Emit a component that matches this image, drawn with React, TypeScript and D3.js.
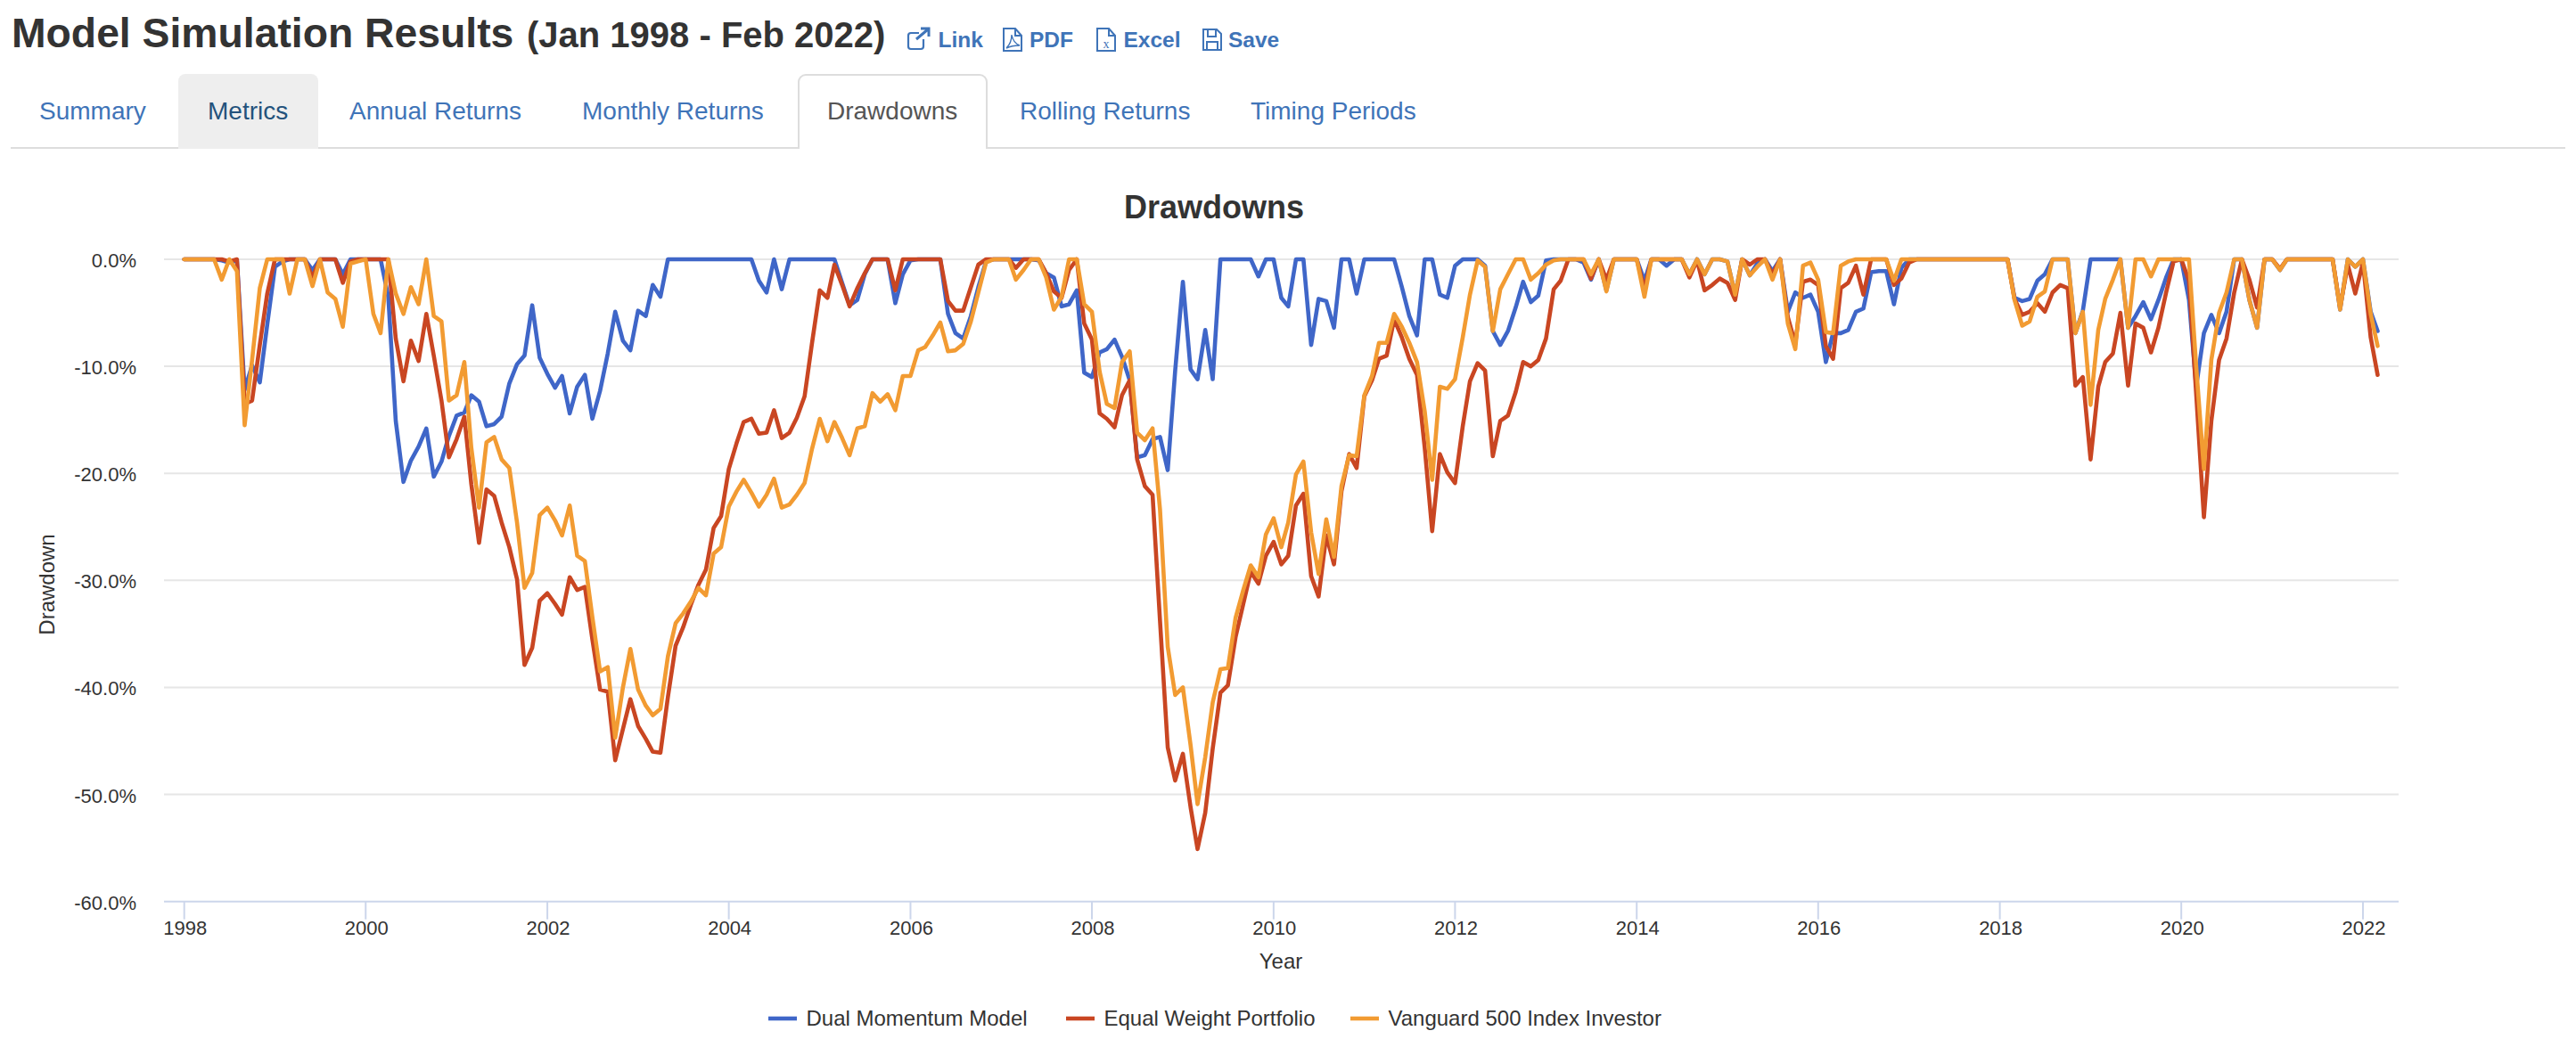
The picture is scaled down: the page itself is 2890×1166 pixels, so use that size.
/**
 * Drawdowns — monthly drawdown lines for three portfolios, inside the results page header and tabs.
 */

import * as d3 from "d3";

const FONT = "'Liberation Sans', Arial, sans-serif";

// Month-end readings, Dec 1997 through Feb 2022, twelve to a row
const DUAL_MOMENTUM = [
  0, 0, 0, 0, 0, -0.1, -0.3, -0.1, -12.2, -9.9, -11.5, -6.1,
  -0.7, -0.2, 0, 0, 0, -1.0, 0, 0, 0, -1.4, 0, 0,
  0, 0, 0, -3.5, -15.1, -20.8, -18.8, -17.5, -15.8, -20.3, -18.9, -16.5,
  -14.6, -14.3, -12.7, -13.3, -15.6, -15.4, -14.7, -11.6, -9.8, -9.0, -4.3, -9.2,
  -10.7, -12.0, -10.9, -14.4, -11.9, -10.8, -14.9, -12.3, -8.8, -4.9, -7.6, -8.5,
  -4.8, -5.3, -2.4, -3.5, 0, 0, 0, 0, 0, 0, 0, 0,
  0, 0, 0, 0, -2.0, -3.1, 0, -2.8, 0, 0, 0, 0,
  0, 0, 0, -2.2, -4.3, -3.8, -1.4, 0, 0, 0, -4.1, -1.4,
  -0.1, 0, 0, 0, 0, -5.1, -6.9, -7.4, -5.3, -2.6, -0.2, 0,
  0, 0, 0, 0, 0, -0.1, -1.3, -1.7, -4.4, -4.2, -2.9, -10.6,
  -11.0, -8.7, -8.4, -7.5, -9.1, -11.3, -18.5, -18.3, -16.8, -16.6, -19.7, -10.4,
  -2.1, -10.3, -11.2, -6.6, -11.2, 0, 0, 0, 0, 0, -1.6, 0,
  0, -3.6, -4.4, 0, 0, -8.0, -3.7, -3.9, -6.4, 0, 0, -3.2,
  0, 0, 0, 0, 0, -2.6, -5.3, -7.1, 0, 0, -3.3, -3.6,
  -0.6, 0, 0, 0, -0.6, -6.7, -8.0, -6.7, -4.5, -2.1, -4.0, -3.4,
  -0.1, 0, 0, 0, 0, -0.3, -1.9, 0, -2.9, 0, 0, 0,
  0, -2.0, 0, 0, -0.6, 0, 0, -1.4, 0, -1.4, 0, 0,
  -0.2, -3.3, 0, -1.5, -0.4, 0, -1.1, 0, -4.9, -3.1, -3.6, -3.3,
  -4.9, -9.6, -6.9, -6.9, -6.6, -4.9, -4.6, -1.2, -1.1, -1.1, -4.2, -0.8,
  0, 0, 0, 0, 0, 0, 0, 0, 0, 0, 0, 0,
  0, 0, -3.6, -3.9, -3.7, -2.0, -1.4, 0, 0, 0, -6.9, -4.8,
  0, 0, 0, 0, 0, -6.4, -5.3, -4.0, -5.6, -3.8, -1.7, 0,
  0, -3.8, -11.9, -6.9, -5.2, -6.9, -4.9, 0, 0, -3.8, -6.4, 0,
  0, -1.0, 0, 0, 0, 0, 0, 0, 0, -4.7, 0, -0.7,
  0, -4.9, -6.7,
];

const EQUAL_WEIGHT = [
  0, 0, 0, 0, 0, 0, -0.2, 0, -13.5, -13.2, -8.0, -3.2,
  0, 0, 0, 0, 0, -1.7, 0, 0, 0, -2.2, -0.2, 0,
  0, 0, 0, 0, -7.4, -11.4, -7.6, -9.5, -5.1, -9.0, -13.2, -18.5,
  -16.8, -14.7, -21.0, -26.5, -21.5, -22.1, -24.6, -26.9, -29.9, -37.9, -36.3, -31.9,
  -31.2, -32.2, -33.2, -29.7, -30.9, -30.6, -35.5, -40.2, -40.4, -46.8, -43.9, -41.1,
  -43.6, -44.8, -46.0, -46.1, -40.9, -36.1, -34.4, -32.3, -30.4, -29.0, -25.1, -24.0,
  -19.6, -17.2, -15.2, -14.9, -16.3, -16.2, -14.1, -16.7, -16.2, -14.8, -12.8, -7.8,
  -2.9, -3.6, -0.5, -2.4, -4.4, -2.7, -1.3, 0, 0, 0, -2.9, 0,
  0, 0, 0, 0, 0, -3.9, -4.8, -4.8, -2.6, -0.5, 0, 0,
  0, 0, -0.8, 0, 0, 0, -1.3, -3.0, -3.6, -1.0, 0, -6.0,
  -7.5, -14.4, -14.9, -15.7, -12.7, -11.3, -18.7, -21.2, -22.0, -33.8, -45.6, -48.7,
  -46.2, -51.2, -55.1, -51.7, -45.7, -40.5, -39.8, -35.3, -32.2, -29.2, -30.3, -27.7,
  -26.4, -28.5, -27.7, -23.0, -21.9, -29.6, -31.5, -25.8, -28.5, -21.7, -18.2, -19.5,
  -12.8, -11.3, -9.3, -9.0, -5.6, -7.3, -9.3, -10.8, -17.6, -25.4, -18.2, -19.9,
  -20.9, -15.6, -11.4, -9.7, -10.4, -18.4, -15.1, -14.6, -12.4, -9.6, -10.0, -9.4,
  -7.4, -2.8, -2.0, 0, 0, 0, -1.8, 0, -1.9, 0, 0, 0,
  0, -2.8, 0, 0, 0, 0, 0, -1.7, -0.1, -2.9, -2.4, -1.8,
  -2.2, -3.8, 0, -0.5, 0, 0, -1.4, 0, -5.4, -7.9, -2.1, -1.9,
  -2.4, -8.1, -9.3, -2.7, -2.2, -0.6, -3.3, 0, 0, 0, -2.4, -1.8,
  -0.3, 0, 0, 0, 0, 0, 0, 0, 0, 0, 0, 0,
  0, 0, -3.7, -5.2, -4.9, -4.1, -4.9, -3.1, -2.4, -2.7, -11.8, -11.0,
  -18.7, -11.9, -9.6, -8.8, -5.0, -11.8, -6.0, -6.4, -8.7, -6.4, -3.1, -0.2,
  0, -2.0, -12.6, -24.1, -15.1, -9.4, -7.4, -3.1, 0, -1.9, -4.5, 0,
  0, -0.9, 0, 0, 0, 0, 0, 0, 0, -4.5, -0.5, -3.2,
  -0.3, -7.3, -10.8,
];

const VANGUARD_500 = [
  0, 0, 0, 0, 0, -1.9, 0, -1.1, -15.5, -9.4, -2.7, 0,
  0, 0, -3.2, 0, 0, -2.5, 0, -3.1, -3.7, -6.3, -0.4, -0.2,
  0, -5.1, -6.9, 0, -3.2, -5.1, -2.6, -4.2, 0, -5.3, -5.8, -13.2,
  -12.7, -9.6, -17.6, -23.2, -17.1, -16.6, -18.7, -19.5, -24.6, -30.7, -29.3, -23.9,
  -23.2, -24.4, -25.8, -23.0, -27.7, -28.2, -33.4, -38.5, -38.1, -44.7, -40.0, -36.4,
  -40.2, -41.7, -42.6, -42.0, -37.1, -34.0, -33.1, -32.0, -30.7, -31.4, -27.5, -26.9,
  -23.1, -21.7, -20.6, -21.8, -23.1, -22.0, -20.5, -23.2, -22.9, -22.0, -20.9, -17.7,
  -14.9, -17.0, -15.2, -16.7, -18.3, -15.8, -15.6, -12.5, -13.3, -12.6, -14.1, -10.9,
  -10.9, -8.5, -8.2, -7.1, -5.9, -8.6, -8.5, -7.9, -5.8, -3.1, -0.3, 0,
  0, 0, -1.9, -1.0, 0, 0, -1.7, -4.7, -3.5, 0, 0, -4.2,
  -4.9, -10.5, -13.5, -13.9, -9.6, -8.6, -16.2, -16.9, -15.8, -23.4, -36.2, -40.7,
  -40.0, -45.4, -50.9, -46.5, -41.4, -38.3, -38.2, -33.5, -30.9, -28.6, -29.7, -25.7,
  -24.2, -26.9, -24.6, -20.1, -18.9, -25.5, -29.4, -24.3, -27.8, -21.2, -18.3, -18.4,
  -12.7, -10.9, -7.8, -7.8, -5.1, -6.3, -7.8, -9.6, -14.2, -20.6, -11.9, -12.1,
  -11.2, -7.3, -3.3, -0.1, -0.7, -6.7, -2.8, -1.4, 0, 0, -1.9, -1.3,
  -0.5, -0.1, 0, 0, 0, 0, -1.4, 0, -3.0, 0, 0, 0,
  0, -3.5, 0, 0, 0, 0, 0, -1.4, 0, -1.4, 0, 0,
  -0.2, -3.3, 0, -1.5, -0.7, 0, -1.9, 0, -6.0, -8.4, -0.6, -0.3,
  -1.9, -6.8, -6.9, -0.6, -0.2, 0, 0, 0, 0, 0, -2.0, 0,
  0, 0, 0, 0, 0, 0, 0, 0, 0, 0, 0, 0,
  0, 0, -3.8, -6.2, -5.8, -3.5, -3.0, 0, 0, 0, -6.9, -4.9,
  -13.6, -6.6, -3.7, -1.9, 0, -6.4, 0, 0, -1.6, 0, 0, 0,
  0, 0, -10.0, -19.6, -9.4, -5.0, -3.1, 0, 0, -3.8, -6.4, 0,
  0, -1.0, 0, 0, 0, 0, 0, 0, 0, -4.7, 0, -0.7,
  0, -5.1, -8.1,
];

const SERIES_NAMES = ["Dual Momentum Model", "Equal Weight Portfolio", "Vanguard 500 Index Investor"];
const SERIES_COLORS = ["#3f66c8", "#c94622", "#f29b32"];
const SERIES_VALUES = [DUAL_MOMENTUM, EQUAL_WEIGHT, VANGUARD_500];
const Y_TICKS = [0, -10, -20, -30, -40, -50, -60];

const TAB_NAMES = ["Summary", "Metrics", "Annual Returns", "Monthly Returns", "Drawdowns", "Rolling Returns", "Timing Periods"];
const TAB_TEXT_X = [44, 233, 392, 653, 928, 1144, 1403];
const LEGEND_X = [862, 1196, 1515];

const LINK_BLUE = "#3f74b8";

const x = d3.scaleUtc()
  .domain([new Date(Date.UTC(1998, 0, 1)), new Date(Date.UTC(2022, 0, 1))])
  .range([206.7, 2651]);
const y = d3.scaleLinear().domain([0, -60]).range([291, 1011.7]);

const monthDate = (i: number) => d3.utcMonth.offset(new Date(Date.UTC(1998, 0, 1)), i);
const line = d3.line<number>()
  .x((_, i) => x(monthDate(i)))
  .y((v) => y(v));

const X_LEFT = 184;
const X_RIGHT = 2691;

function Header() {
  return (
    <g fontFamily={FONT}>
      <text x={13} y={53} fontSize={46.3} fontWeight={700} fill="#333">Model Simulation Results</text>
      <text x={591} y={53} fontSize={40} fontWeight={700} fill="#333">(Jan 1998 - Feb 2022)</text>

      {/* Link */}
      <g fill="none" stroke={LINK_BLUE} strokeWidth={2.2}>
        <path d="M1036 44v8a3 3 0 0 1-3 3h-11a3 3 0 0 1-3-3V40a3 3 0 0 1 3-3h9" />
        <path d="M1028 44l13-11M1033 32h9v9" strokeWidth={3} />
      </g>
      <text x={1052.6} y={53} fontSize={24.5} fontWeight={700} fill={LINK_BLUE}>Link</text>

      {/* PDF */}
      <g fill="none" stroke={LINK_BLUE} strokeWidth={2}>
        <path d="M1126 32h13l7 8v17h-20zM1139 32v8h7" />
        <path d="M1129 54c5-5 6-11 6-15c1 6 4 10 9 12c-6 0-11 1-15 3z" strokeWidth={1.4} />
      </g>
      <text x={1155} y={53} fontSize={24.5} fontWeight={700} fill={LINK_BLUE}>PDF</text>

      {/* Excel */}
      <g fill="none" stroke={LINK_BLUE} strokeWidth={2}>
        <path d="M1231 32h13l7 8v17h-20zM1244 32v8h7" />
      </g>
      <text x={1241} y={54} fontSize={14} fontFamily="'Liberation Serif', serif" textAnchor="middle" fill={LINK_BLUE}>x</text>
      <text x={1260.5} y={53} fontSize={24.5} fontWeight={700} fill={LINK_BLUE}>Excel</text>

      {/* Save */}
      <g fill="none" stroke={LINK_BLUE} strokeWidth={2}>
        <path d="M1350 33h15l5 5v18h-20z" />
        <path d="M1355 33v8h9v-8M1354 56v-9h12v9" />
      </g>
      <text x={1378} y={53} fontSize={24.5} fontWeight={700} fill={LINK_BLUE}>Save</text>
    </g>
  );
}

function Tabs() {
  return (
    <g fontFamily={FONT} fontSize={28}>
      <line x1={12} x2={2878} y1={166} y2={166} stroke="#ddd" strokeWidth={2} />
      <path d="M200 167V91a8 8 0 0 1 8-8h141a8 8 0 0 1 8 8v76z" fill="#eee" />
      <path d="M896 166V92a8 8 0 0 1 8-8h195a8 8 0 0 1 8 8v74" fill="#fff" stroke="#ddd" strokeWidth={2} />
      <rect x={897} y={164} width={209} height={4} fill="#fff" />
      {TAB_NAMES.map((t, i) => (
        <text key={t} x={TAB_TEXT_X[i]} y={134}
          fill={t === "Metrics" ? "#23527c" : t === "Drawdowns" ? "#555" : LINK_BLUE}>
          {t}
        </text>
      ))}
    </g>
  );
}

export default function App() {
  const xTicks = x.ticks(d3.utcYear.every(2)!);

  return (
    <svg width={2890} height={1166} style={{ position: "absolute", left: 0, top: 0, display: "block" }}>
      <rect width={2890} height={1166} fill="#fff" />
      <Header />
      <Tabs />

      <g fontFamily={FONT} fill="#333">
        <text x={1362} y={245} fontSize={36} fontWeight={700} textAnchor="middle">Drawdowns</text>

        {/* Gridlines and y labels */}
        {Y_TICKS.map((t) => (
          <g key={t}>
            <line x1={X_LEFT} x2={X_RIGHT} y1={y(t)} y2={y(t)}
              stroke={t === -60 ? "#ccd6eb" : "#e6e6e6"} strokeWidth={2} />
            <text x={153} y={y(t) + 9} fontSize={22} textAnchor="end">{t.toFixed(1)}%</text>
          </g>
        ))}

        {/* X axis */}
        {xTicks.map((d) => (
          <g key={d.getTime()}>
            <line x1={x(d)} x2={x(d)} y1={y(-60)} y2={y(-60) + 20} stroke="#ccd6eb" strokeWidth={2} />
            <text x={x(d) + 1} y={1049} fontSize={22} textAnchor="middle">{d.getUTCFullYear()}</text>
          </g>
        ))}

        <text x={1437} y={1087} fontSize={24} textAnchor="middle">Year</text>
        <text transform="translate(61,656) rotate(-90)" fontSize={24} textAnchor="middle">Drawdown</text>

        {/* Series lines */}
        {SERIES_VALUES.map((vals, i) => (
          <path key={SERIES_NAMES[i]} d={line(vals) ?? ""} fill="none"
            stroke={SERIES_COLORS[i]} strokeWidth={4.6} strokeLinejoin="round" strokeLinecap="round" />
        ))}

        {/* Legend */}
        {SERIES_NAMES.map((name, i) => (
          <g key={name}>
            <line x1={LEGEND_X[i]} x2={LEGEND_X[i] + 32} y1={1143} y2={1143}
              stroke={SERIES_COLORS[i]} strokeWidth={4.6} />
            <text x={LEGEND_X[i] + 42.5} y={1151} fontSize={24}>{name}</text>
          </g>
        ))}
      </g>
    </svg>
  );
}
